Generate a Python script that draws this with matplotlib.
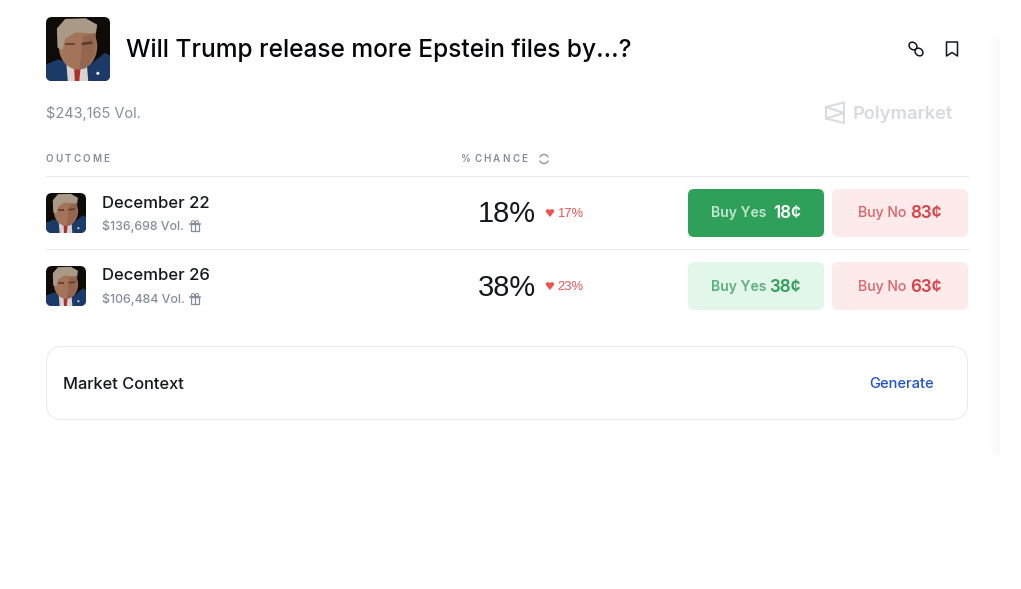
import matplotlib
matplotlib.use("Agg")
import matplotlib.pyplot as plt
import numpy as np
from matplotlib.font_manager import FontProperties
from matplotlib.patches import Arc, FancyBboxPatch, Polygon, Ellipse, Rectangle, Circle
from matplotlib.textpath import TextPath

plt.rcParams['font.family'] = ['Inter', 'DejaVu Sans']

title = "Will Trump release more Epstein files by…?"
total_volume = "$243,165 Vol."
outcomes = ["December 22", "December 26"]
volumes = ["$136,698 Vol.", "$106,484 Vol."]
chances = ["18%", "38%"]
drops = ["17%", "23%"]
yes_prices = ["18¢", "38¢"]
no_prices = ["83¢", "63¢"]

GREY = "#858d9c"
DARK = "#14171c"
RED = "#f0524f"

fig = plt.figure(figsize=(10.21, 5.89), dpi=100)
ax = fig.add_axes([0, 0, 1, 1])
ax.set_xlim(0, 1021)
ax.set_ylim(589, 0)
ax.axis("off")


def rounded(x, y, w, h, r, **kw):
    p = FancyBboxPatch((x + r, y + r), w - 2 * r, h - 2 * r,
                       boxstyle=f"round,pad={r},rounding_size={r}", **kw)
    ax.add_patch(p)
    return p


def px(size):
    # css px to points at 100 dpi
    return size * 0.72


def spaced_text(x, y, s, size, gap, **kw):
    # letter-spacing by hand, matplotlib has no option for it
    fp = FontProperties(family="Inter", weight="semibold", size=px(size))
    for ch in s:
        ax.text(x, y, ch, fontproperties=fp, va="center", **kw)
        if ch == " ":
            x += gap * 0.8
        else:
            x += TextPath((0, 0), ch, prop=fp).get_extents().x1 / 0.72 + gap


def portrait(x, y, s, r):
    clip = rounded(x, y, s, s, r, fc="#0f0b09", ec="none", zorder=2)

    def add(p):
        ax.add_patch(p)
        p.set_clip_path(clip)
        p.set_zorder(3)

    def pts(items):
        return [(x + a * s, y + b * s) for a, b in items]

    # suit, shirt, tie
    add(Polygon(pts([(0, 1), (0, .74), (.2, .66), (.42, .76), (.72, .72), (.92, .56), (1, .6), (1, 1)]), fc="#1c3a68", ec="none"))
    add(Polygon(pts([(.32, .74), (.64, .76), (.66, 1), (.34, 1)]), fc="#d8d3d1", ec="none"))
    add(Polygon(pts([(.44, .8), (.54, .8), (.52, 1), (.45, 1)]), fc="#b0302e", ec="none"))
    add(Circle((x + .81 * s, y + .88 * s), .025 * s, fc="#e8e8e8", ec="none"))
    # face and hair
    add(Ellipse((x + .5 * s, y + .46 * s), .6 * s, .72 * s, fc="#a3735a", ec="none"))
    add(Polygon(pts([(.58, .3), (.78, .26), (.76, .6), (.62, .8), (.52, .82)]), fc="#94654f", ec="none"))
    add(Polygon(pts([(.18, .48), (.17, .18), (.3, .03), (.62, .02), (.8, .12), (.78, .26), (.46, .24), (.3, .34), (.26, .52)]), fc="#a89a86", ec="none"))
    add(Polygon(pts([(.3, .4), (.46, .4), (.46, .44), (.3, .44)]), fc="#6b4534", ec="none"))
    add(Polygon(pts([(.56, .4), (.72, .38), (.72, .42), (.56, .44)]), fc="#5a3a2c", ec="none"))


def gift(x, y):
    ax.add_patch(Rectangle((x - 4, y - 2), 8, 7, fc="none", ec=GREY, lw=0.9))
    ax.plot([x - 5, x + 5], [y - 2, y - 2], color=GREY, lw=1.2)
    ax.plot([x, x], [y - 4, y + 5], color=GREY, lw=0.9)
    ax.add_patch(Circle((x - 2, y - 4), 1.5, fc="none", ec=GREY, lw=0.7))
    ax.add_patch(Circle((x + 2, y - 4), 1.5, fc="none", ec=GREY, lw=0.7))


# soft page shadow on the right edge
shade = np.linspace(0, 1, 12).reshape(1, -1)
ax.imshow(shade, extent=(988, 1000, 455, 38), cmap=matplotlib.colors.LinearSegmentedColormap.from_list("s", ["#ffffff", "#f9f9f9"]),
          aspect="auto", zorder=0)
ax.set_xlim(0, 1021)
ax.set_ylim(589, 0)

# header
portrait(46, 17, 64, 6)
ax.text(126, 50, title, fontsize=px(24.5), fontweight="medium", color="#050608", va="center")

# link icon
ax.add_patch(Ellipse((913, 46), 8.5, 7, angle=40, fc="none", ec="#14171c", lw=1.1))
ax.add_patch(Ellipse((919, 52), 8.5, 7, angle=40, fc="none", ec="#14171c", lw=1.1))
# bookmark icon
ax.add_patch(Polygon([(946.5, 42), (957.5, 42), (957.5, 56), (952, 52.5), (946.5, 56)], closed=True, fc="none", ec="#14171c", lw=1.1, joinstyle="round"))

ax.text(46, 113.5, total_volume, fontsize=px(14.5), color=GREY, va="center")

# watermark
LOGO = "#d8dadd"
ax.add_patch(Polygon([(826, 107), (844, 102.5), (844, 123), (826, 118.5)], closed=True, fc="none", ec=LOGO, lw=1.4))
ax.plot([826, 844, 826], [107, 113, 118.5], color=LOGO, lw=1.4)
ax.text(853, 114.5, "Polymarket", fontsize=px(18.3), fontweight="semibold", color=LOGO, va="center")

# column heads
spaced_text(45.5, 158.5, "OUTCOME", 9.8, 2.7, color=GREY)
spaced_text(460.5, 158.5, "% CHANCE", 9.8, 2.7, color=GREY)
ax.add_patch(Arc((544, 159), 9, 9, theta1=200, theta2=340, ec=GREY, lw=0.9))
ax.add_patch(Arc((544, 159), 9, 9, theta1=20, theta2=160, ec=GREY, lw=0.9))

ax.plot([46, 968], [176, 176], color="#e6e8ea", lw=0.72)
ax.plot([46, 968], [249, 249], color="#e6e8ea", lw=0.72)

# rows
for i, name in enumerate(outcomes):
    dy = 73 * i
    portrait(46, 193 + dy, 40, 6)
    ax.text(102, 203 + dy, name, fontsize=px(16.7), fontweight="medium", color=DARK, va="center")
    ax.text(102, 226 + dy, volumes[i], fontsize=px(12.4), fontweight="medium", color=GREY, va="center")
    gift(195, 226 + dy)

    ax.text(536, 214.5 + dy, chances[i], fontsize=px(29), color=DARK, va="center", ha="right", family="Liberation Sans")
    ax.add_patch(Polygon([(546, 210 + dy), (548, 209 + dy), (550, 210 + dy), (552, 209 + dy), (554, 210 + dy), (554, 212 + dy), (550, 217 + dy), (546, 212 + dy)],
                         closed=True, fc=RED, ec="none"))
    ax.text(557, 214 + dy, drops[i], fontsize=px(13), color=RED, va="center", family="Liberation Sans")

    # buy buttons
    active = i == 0
    rounded(688, 189 + dy, 136, 48, 6, fc="#2ea05a" if active else "#e3f6ea", ec="none")
    rounded(832, 189 + dy, 136, 48, 6, fc="#fcebea", ec="none")
    lab = "#c3e6d1" if active else "#5bb07e"
    val = "#ffffff" if active else "#2f9c5b"
    ax.text(711, 213.5 + dy, "Buy Yes", fontsize=px(14), fontweight="semibold", color=lab, va="center")
    ax.text(801, 214 + dy, yes_prices[i], fontsize=px(17), fontweight="semibold", color=val, va="center", ha="right")
    ax.text(858, 213.5 + dy, "Buy No", fontsize=px(14), fontweight="medium", color="#e0616a", va="center")
    ax.text(942, 214 + dy, no_prices[i], fontsize=px(17), fontweight="semibold", color="#dc3f47", va="center", ha="right")

# market context card
rounded(46.5, 346.5, 921, 73, 16, fc="white", ec="#e8eaec", lw=0.72)
ax.text(63, 384.5, "Market Context", fontsize=px(16.4), fontweight="medium", color=DARK, va="center")
ax.text(869, 384, "Generate", fontsize=px(14.7), fontweight="medium", color="#1d52c9", va="center")

fig.savefig("out.png", dpi=100, facecolor="white")
